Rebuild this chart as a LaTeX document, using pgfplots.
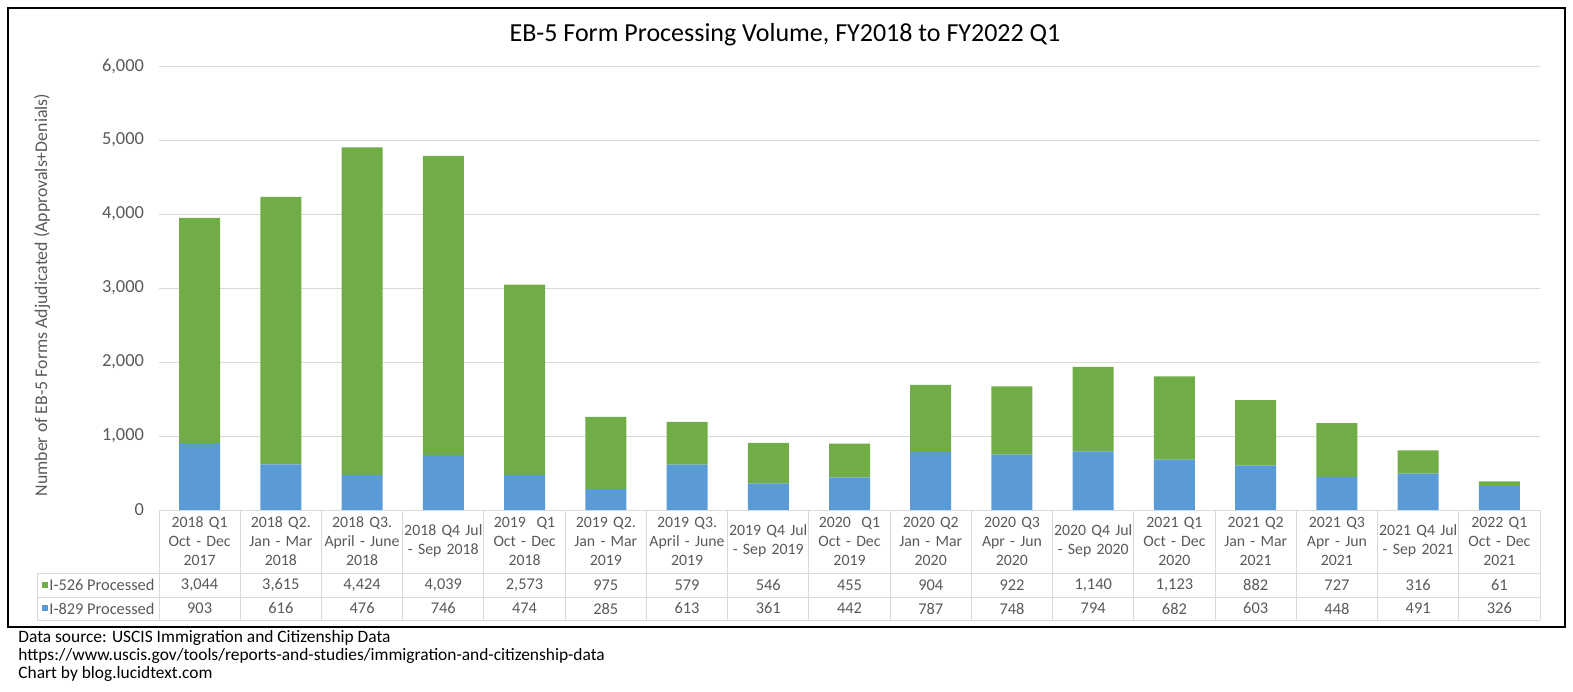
\documentclass[border=0pt]{standalone}
\usepackage{fontspec}
\setmainfont{Carlito}
\usepackage{pgfplots}
\usepackage{pgfplotstable}
\pgfplotsset{compat=1.18}

\definecolor{gA}{HTML}{70AD47}
\definecolor{bA}{HTML}{5B9BD5}
\definecolor{gridc}{HTML}{D9D9D9}
\definecolor{txt}{HTML}{595959}

% quarter index, I-526 processed, I-829 processed
\pgfplotstableread{
q i526 i829
0 3044 903
1 3615 616
2 4424 476
3 4039 746
4 2573 474
5 975 285
6 579 613
7 546 361
8 455 442
9 904 787
10 922 748
11 1140 794
12 1123 682
13 882 603
14 727 448
15 316 491
16 61 326
}\data

\newcommand{\tabfont}{\fontsize{8.2}{9.5}\selectfont}
\newcommand{\headfont}{\fontsize{7.9}{9.5}\selectfont}

\begin{document}
\begin{tikzpicture}[x=0.5pt,y=-0.5pt]
\path (0,0) rectangle (1573,691);
\draw[black, line width=0.6pt] (8,8) rectangle (1565,627);
\node[font=\fontsize{13}{15}\selectfont, text=black] at (785,35)
  {EB-5 Form Processing Volume, FY2018 to FY2022 Q1};

\begin{axis}[
    at={(79.5pt,-255pt)}, anchor=south west,
    scale only axis,
    width=690.5pt, height=222pt,
    ybar stacked,
    bar width=20.5pt,
    xmin=-0.5, xmax=16.5,
    ymin=0, ymax=6000,
    ytick={0,1000,...,6000},
    xtick={0,...,16},
    xticklabels={
      {2018 Q1\\Oct - Dec\\2017},
      {2018 Q2.\\Jan - Mar\\2018},
      {2018 Q3.\\April - June\\2018},
      {2018 Q4 Jul\\- Sep 2018},
      {2019\ \ Q1\\Oct - Dec\\2018},
      {2019 Q2.\\Jan - Mar\\2019},
      {2019 Q3.\\April - June\\2019},
      {2019 Q4 Jul\\- Sep 2019},
      {2020\ \ Q1\\Oct - Dec\\2019},
      {2020 Q2\\Jan - Mar\\2020},
      {2020 Q3\\Apr - Jun\\2020},
      {2020 Q4 Jul\\- Sep 2020},
      {2021 Q1\\Oct - Dec\\2020},
      {2021 Q2\\Jan - Mar\\2021},
      {2021 Q3\\Apr - Jun\\2021},
      {2021 Q4 Jul\\- Sep 2021},
      {2022 Q1\\Oct - Dec\\2021}},
    xticklabel style={anchor=center, yshift=-15.5pt, text width=46pt,
      inner xsep=0pt, align=center, font=\headfont, text=txt},
    major x tick style={draw=none},
    major y tick style={draw=none},
    yticklabel style={font=\fontsize{9.2}{11}\selectfont, text=txt,
      xshift=-4pt},
    /pgf/number format/assume math mode=true,
    /pgf/number format/1000 sep={,},
    ymajorgrids,
    grid style={gridc, line width=0.5pt},
    axis line style={draw=none},
    ylabel={Number of EB-5 Forms Adjudicated (Approvals+Denials)},
    ylabel style={at={(axis description cs:-0.0847,0.484)}, anchor=center,
      font=\fontsize{8.9}{10}\selectfont, text=txt},
    clip=false,
]
\addplot[draw=none, fill=bA] table[x=q, y=i829] {\data};
\addplot[draw=none, fill=gA] table[x=q, y=i526] {\data};
\end{axis}

% data table grid
\begin{scope}[draw=gridc, line width=0.5pt]
\draw (159,510) -- (1540,510);
\draw (37,573) -- (1540,573);
\draw (37,597) -- (1540,597);
\draw (37,620) -- (1540,620);
\draw (37,573) -- (37,620);
\foreach \k in {0,...,17} {
  \draw ({159+81.235*\k},510) -- ({159+81.235*\k},620);
}
\end{scope}

% legend keys and row labels
\fill[gA] (41.5,581.5) rectangle (47.5,587.5);
\fill[bA] (41.5,605) rectangle (47.5,611);
\node[anchor=west, font=\tabfont, text=txt, inner sep=0pt] at (49,585) {I-526 Processed};
\node[anchor=west, font=\tabfont, text=txt, inner sep=0pt] at (49,608.5) {I-829 Processed};

% table values
\foreach [count=\i from 0] \v in {3{,}044,3{,}615,4{,}424,4{,}039,2{,}573,975,579,546,455,904,922,1{,}140,1{,}123,882,727,316,61} {
  \node[font=\tabfont, text=txt] at ({159+81.235*(\i+0.5)},585) {\v};
}
\foreach [count=\i from 0] \v in {903,616,476,746,474,285,613,361,442,787,748,794,682,603,448,491,326} {
  \node[font=\tabfont, text=txt] at ({159+81.235*(\i+0.5)},608.5) {\v};
}

% footer
\begin{scope}[every node/.style={anchor=west, font=\fontsize{8.7}{10}\selectfont, inner sep=0pt}]
\node at (18,638) {Data source: USCIS Immigration and Citizenship Data};
\node at (18,656) {https://www.uscis.gov/tools/reports-and-studies/immigration-and-citizenship-data};
\node at (18,674) {Chart by blog.lucidtext.com};
\end{scope}
\end{tikzpicture}
\end{document}
